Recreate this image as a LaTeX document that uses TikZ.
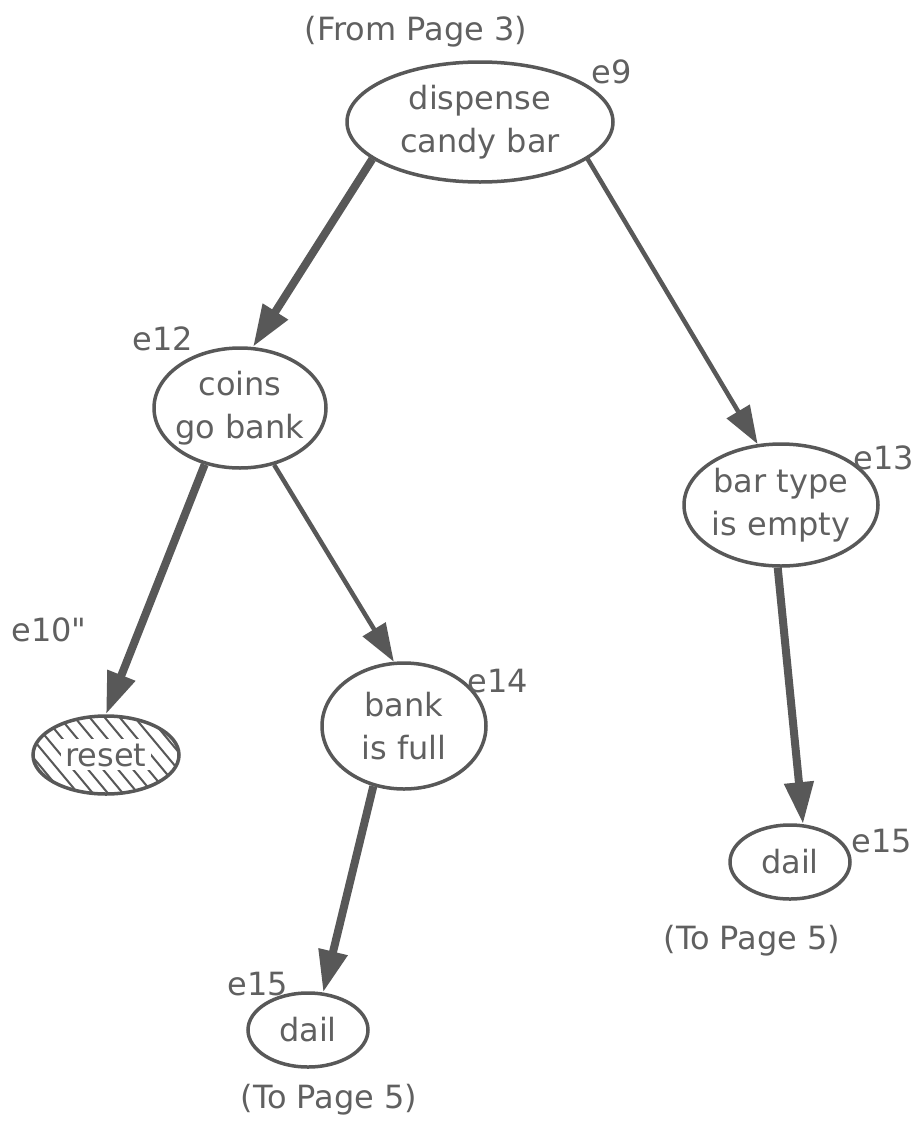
\documentclass[tikz,border=0pt]{standalone}
\usepackage{fontspec}
\setmainfont{DejaVu Sans}
\newfontfamily\plainfont{DejaVu Sans}
\usetikzlibrary{shapes.geometric,arrows.meta}
\definecolor{ink}{RGB}{88,88,88}
\definecolor{txt}{RGB}{96,96,96}
\begin{document}
\begin{tikzpicture}[x=1pt,y=-1pt,
  font=\fontsize{32}{43}\selectfont,
  ell/.style={draw=ink, line width=3.5pt, ellipse, inner sep=-10pt, align=center, text=txt},
  lbl/.style={text=txt, inner sep=0pt},
  thickarr/.style={draw=ink, line width=8pt, -{Triangle[length=42pt,width=28pt]}},
  thinarr/.style={draw=ink, line width=4.5pt, -{Triangle[length=38pt,width=26pt]}},
  hatchline/.style={draw=ink, line width=2pt}
]
\useasboundingbox (0,0) rectangle (917,1122);

% nodes
\node[ell, minimum width=266pt, minimum height=120pt] (e9) at (480,122) {dispense\\candy bar};
\node[ell, minimum width=172pt, minimum height=120pt] (e12) at (240,408) {coins\\go bank};
\node[ell, minimum width=194pt, minimum height=122pt] (e13) at (781,505) {bar type\\is empty};
\node[ell, minimum width=146pt, minimum height=78pt,
  path picture={
    \foreach \i in {-8,...,8} {
      \draw[hatchline] ([xshift=\i*15pt]path picture bounding box.center) ++(-50,-60) -- ++(100,120);
    }
    \fill[white] ([xshift=-45pt,yshift=-15pt]path picture bounding box.center) rectangle ([xshift=45pt,yshift=16pt]path picture bounding box.center);
  }] (reset) at (106,755) {reset};
\node[ell, minimum width=164pt, minimum height=126pt] (e14) at (404,726) {bank\\is full};
\node[ell, minimum width=120pt, minimum height=74pt] (dailr) at (790,862) {dail};
\node[ell, minimum width=120pt, minimum height=74pt] (dailb) at (308,1030) {dail};

% labels
\node[lbl] (from) at (416,32) {(From Page 3)};
\node[lbl] (le9) at (612,72) {e9};
\node[lbl] (le12) at (163,339) {e12};
\node[lbl] (le13) at (884,458) {e13};
\node[lbl] (le10) at (49,630) {\plainfont e10"};
\node[lbl] (le14) at (498,681) {e14};
\node[lbl] (le15r) at (882,841) {e15};
\node[lbl] (le15b) at (258,984) {e15};
\node[lbl] (tor) at (752,941) {(To Page 5)};
\node[lbl] (tob) at (329,1100) {(To Page 5)};

% connectors
\draw[thickarr] (e9.199) -- (e12.78);
\draw[thinarr] (e9.341) -- (e13.111);
\draw[thickarr] (e12.238) -- (reset.90);
\draw[thinarr] (e12.301) -- (e14.99);
\draw[thickarr] (e14.243) -- (dailb.68);
\draw[thickarr] (e13.267) -- (dailr.71);
\end{tikzpicture}
\end{document}
